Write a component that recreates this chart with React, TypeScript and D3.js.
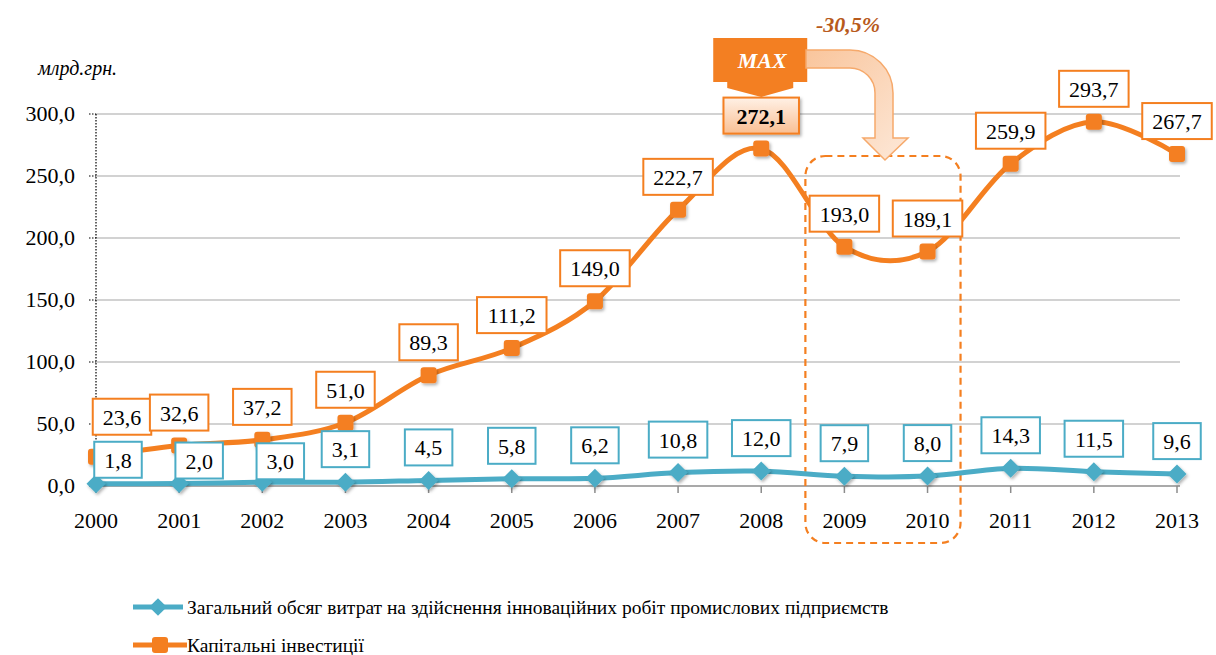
import React, { useRef, useEffect } from 'react';
import * as d3 from 'd3';

const years = ['2000', '2001', '2002', '2003', '2004', '2005', '2006', '2007', '2008', '2009', '2010', '2011', '2012', '2013'];
const innovation = [1.8, 2.0, 3.0, 3.1, 4.5, 5.8, 6.2, 10.8, 12.0, 7.9, 8.0, 14.3, 11.5, 9.6];
const investment = [23.6, 32.6, 37.2, 51.0, 89.3, 111.2, 149.0, 222.7, 272.1, 193.0, 189.1, 259.9, 293.7, 267.7];
const yTicks = [0, 50, 100, 150, 200, 250, 300];

const seriesNames = [
  'Загальний обсяг витрат на здійснення інноваційних робіт промислових підприємств',
  'Капітальні інвестиції',
];

// manual label nudges (dx, dy) like Excel's moved labels
const innovationNudge = [[22, 9], [20, 10], [18, 12]];
const investmentNudge = [[26, -7]];

const ORANGE = '#f47f20';
const BLUE = '#4bacc6';
const FONT = "'Liberation Serif', 'DejaVu Serif', 'Times New Roman', serif";

const fmt = (v: number) => v.toFixed(1).replace('.', ',');
const textWidth = (s: string) => s.split('').reduce((w, c) => w + (c === ',' ? 5.5 : 11), 0);

function App() {
  const svgRef = useRef<SVGSVGElement>(null);

  useEffect(() => {
    document.body.style.margin = '0';
    const svg = d3.select(svgRef.current);
    svg.selectAll('*').remove();

    const width = 1216;
    const height = 655;
    const left = 96;
    const right = 1177;
    const top = 114;
    const bottom = 486;

    svg.attr('width', width).attr('height', height)
      .style('font-family', FONT)
      .style('display', 'block');

    const defs = svg.append('defs');
    const shadow = defs.append('filter').attr('id', 'shadow').attr('x', '-30%').attr('y', '-30%').attr('width', '160%').attr('height', '160%');
    shadow.append('feDropShadow').attr('dx', 1.5).attr('dy', 2).attr('stdDeviation', 1.5).attr('flood-color', '#000').attr('flood-opacity', 0.3);

    const maxGrad = defs.append('linearGradient').attr('id', 'maxGrad').attr('x1', 0).attr('y1', 0).attr('x2', 0).attr('y2', 1);
    maxGrad.append('stop').attr('offset', '0%').attr('stop-color', '#fff1e6');
    maxGrad.append('stop').attr('offset', '100%').attr('stop-color', '#f9bf93');

    const arrowGrad = defs.append('linearGradient').attr('id', 'arrowGrad').attr('x1', 0).attr('y1', 0).attr('x2', 1).attr('y2', 1);
    arrowGrad.append('stop').attr('offset', '0%').attr('stop-color', '#f9c59c');
    arrowGrad.append('stop').attr('offset', '100%').attr('stop-color', '#fde8d8');

    const x = d3.scalePoint().domain(years).range([left, right]);
    const y = d3.scaleLinear().domain([0, 300]).range([bottom, top]);

    // Gridlines
    svg.append('g')
      .selectAll('line')
      .data(yTicks.filter(d => d > 0))
      .enter()
      .append('line')
      .attr('x1', left)
      .attr('x2', right + 3)
      .attr('y1', d => y(d))
      .attr('y2', d => y(d))
      .attr('stroke', '#c3c3c3')
      .attr('stroke-width', 1.5);

    // Y axis (dotted)
    svg.append('line')
      .attr('x1', left).attr('x2', left)
      .attr('y1', top).attr('y2', bottom)
      .attr('stroke', '#000').attr('stroke-width', 1.2)
      .attr('stroke-dasharray', '1.5,1.5');
    svg.append('g')
      .selectAll('line')
      .data(yTicks)
      .enter()
      .append('line')
      .attr('x1', left - 7).attr('x2', left)
      .attr('y1', d => y(d)).attr('y2', d => y(d))
      .attr('stroke', '#000').attr('stroke-width', 1.2)
      .attr('stroke-dasharray', '1.5,1.5');
    svg.append('g')
      .selectAll('text')
      .data(yTicks)
      .enter()
      .append('text')
      .attr('x', 75)
      .attr('y', d => y(d) + 7)
      .attr('text-anchor', 'end')
      .attr('font-size', 22)
      .text(d => fmt(d));

    svg.append('text')
      .attr('x', 38).attr('y', 75)
      .attr('font-size', 20)
      .attr('font-style', 'italic')
      .text('млрд.грн.');

    // X axis
    svg.append('line')
      .attr('x1', left).attr('x2', right + 3)
      .attr('y1', bottom).attr('y2', bottom)
      .attr('stroke', '#8c8c8c').attr('stroke-width', 1.5);
    svg.append('g')
      .selectAll('line')
      .data(years)
      .enter()
      .append('line')
      .attr('x1', d => x(d)!).attr('x2', d => x(d)!)
      .attr('y1', bottom).attr('y2', bottom + 7)
      .attr('stroke', '#8c8c8c').attr('stroke-width', 1.5);
    svg.append('g')
      .selectAll('text')
      .data(years)
      .enter()
      .append('text')
      .attr('x', d => x(d)!)
      .attr('y', 528)
      .attr('text-anchor', 'middle')
      .attr('font-size', 22)
      .text(d => d);

    // Dashed highlight box around the 2009-2010 drop
    svg.append('rect')
      .attr('x', x('2009')! - 39).attr('y', 156)
      .attr('width', x('2010')! - x('2009')! + 72).attr('height', 387)
      .attr('rx', 20)
      .attr('fill', 'none')
      .attr('stroke', ORANGE).attr('stroke-width', 2.2)
      .attr('stroke-dasharray', '7,5');

    const line = d3.line<number>()
      .x((_, i) => x(years[i])!)
      .y(d => y(d))
      .curve(d3.curveCardinal.tension(0));

    // Innovation series
    svg.append('path')
      .datum(innovation)
      .attr('d', line)
      .attr('fill', 'none')
      .attr('stroke', BLUE)
      .attr('stroke-width', 5);
    svg.append('g')
      .selectAll('path')
      .data(innovation)
      .enter()
      .append('path')
      .attr('d', d3.symbol().type(d3.symbolDiamond2).size(230))
      .attr('transform', (d, i) => `translate(${x(years[i])},${y(d)})`)
      .attr('fill', BLUE)
      .attr('filter', 'url(#shadow)');

    // Investment series
    svg.append('path')
      .datum(investment)
      .attr('d', line)
      .attr('fill', 'none')
      .attr('stroke', ORANGE)
      .attr('stroke-width', 5);
    svg.append('g')
      .selectAll('rect')
      .data(investment)
      .enter()
      .append('rect')
      .attr('x', (d, i) => x(years[i])! - 8)
      .attr('y', d => y(d) - 8)
      .attr('width', 16).attr('height', 16)
      .attr('rx', 3)
      .attr('fill', ORANGE)
      .attr('filter', 'url(#shadow)');

    // Data labels
    const drawLabels = (values: number[], nudge: number[][], color: string, maxIdx: number) => {
      const g = svg.append('g');
      values.forEach((v, i) => {
        const s = fmt(v);
        const [dx, dy] = nudge[i] || [0, 0];
        const cx = x(years[i])! + dx;
        const cy = y(v) - 33 + dy;
        const isMax = i === maxIdx;
        const w = textWidth(s) + (isMax ? 26 : 20);
        const h = 36;
        g.append('rect')
          .attr('x', cx - w / 2).attr('y', cy - h / 2)
          .attr('width', w).attr('height', h)
          .attr('fill', isMax ? 'url(#maxGrad)' : '#fff')
          .attr('stroke', color)
          .attr('stroke-width', 2)
          .attr('filter', isMax ? 'url(#shadow)' : null);
        g.append('text')
          .attr('x', cx).attr('y', cy + 8)
          .attr('text-anchor', 'middle')
          .attr('font-size', 22)
          .attr('font-weight', isMax ? 'bold' : 'normal')
          .text(s);
      });
    };
    drawLabels(innovation, innovationNudge, BLUE, -1);
    drawLabels(investment, investmentNudge, ORANGE, investment.indexOf(d3.max(investment.slice(0, 10))!));

    // MAX callout
    const mx = x('2008')!;
    svg.append('path')
      .attr('d', `M${mx - 48},38 H${mx + 46} V82 H${mx + 32} V88 L${mx},97 L${mx - 34},88 V82 H${mx - 48} Z`)
      .attr('fill', '#f37f22');
    svg.append('text')
      .attr('x', mx + 1).attr('y', 68)
      .attr('text-anchor', 'middle')
      .attr('font-size', 22)
      .attr('font-style', 'italic')
      .attr('font-weight', 'bold')
      .attr('fill', '#fff')
      .text('MAX');

    // Curved arrow to the drop
    svg.append('path')
      .attr('d', 'M806,50 H850 A43,43 0 0 1 893,93 V138 H908 L885,160 L863,138 H875 V93 A25,25 0 0 0 850,68 H806 Z')
      .attr('fill', 'url(#arrowGrad)')
      .attr('stroke', '#f6a96b')
      .attr('stroke-width', 1.5);

    svg.append('text')
      .attr('x', 848).attr('y', 32)
      .attr('text-anchor', 'middle')
      .attr('font-size', 22)
      .attr('font-style', 'italic')
      .attr('font-weight', 'bold')
      .attr('fill', '#b85a1c')
      .text('-30,5%');

    // Legend
    const legend = svg.append('g');
    legend.append('line')
      .attr('x1', 133).attr('x2', 183).attr('y1', 607).attr('y2', 607)
      .attr('stroke', BLUE).attr('stroke-width', 5);
    legend.append('path')
      .attr('d', d3.symbol().type(d3.symbolDiamond2).size(200))
      .attr('transform', 'translate(158,607)')
      .attr('fill', BLUE);
    legend.append('text')
      .attr('x', 187).attr('y', 614)
      .attr('font-size', 19.5)
      .text(seriesNames[0]);

    legend.append('line')
      .attr('x1', 133).attr('x2', 187).attr('y1', 645).attr('y2', 645)
      .attr('stroke', ORANGE).attr('stroke-width', 5);
    legend.append('rect')
      .attr('x', 152).attr('y', 637).attr('width', 16).attr('height', 16).attr('rx', 3)
      .attr('fill', ORANGE);
    legend.append('text')
      .attr('x', 187).attr('y', 652)
      .attr('font-size', 19.5)
      .text(seriesNames[1]);
  }, []);

  return <svg ref={svgRef}></svg>;
}

export default App;
